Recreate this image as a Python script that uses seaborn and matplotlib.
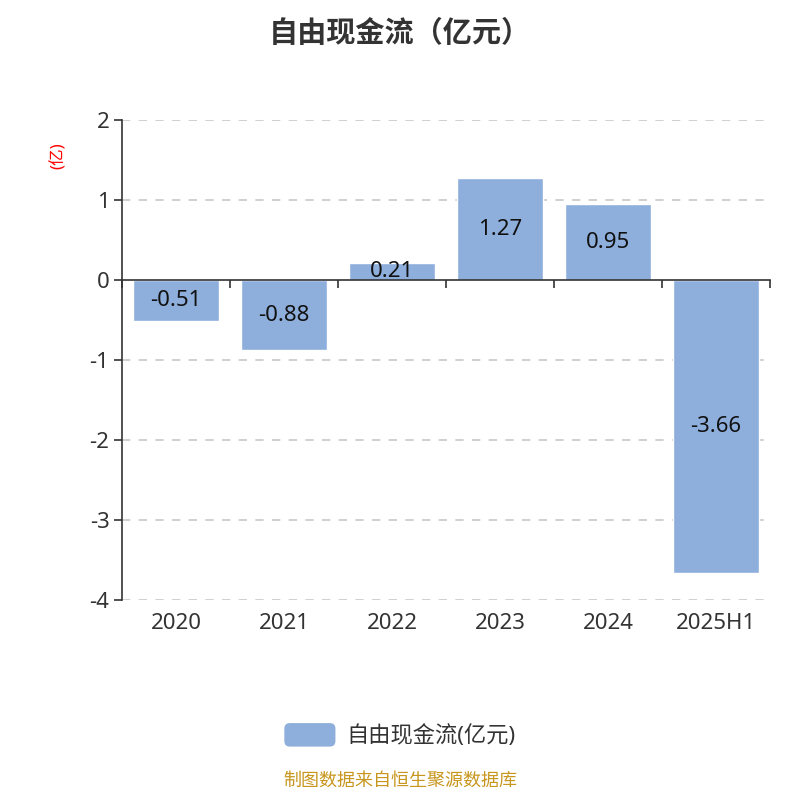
import matplotlib
matplotlib.use("Agg")
import matplotlib.pyplot as plt
import matplotlib.patches as mpatches
from matplotlib.legend_handler import HandlerPatch
import seaborn as sns
import pandas as pd

# chart data
years = ["2020", "2021", "2022", "2023", "2024", "2025H1"]
free_cash_flow = [-0.51, -0.88, 0.21, 1.27, 0.95, -3.66]
series_name = "自由现金流(亿元)"

BAR_COLOR = "#8eaedb"
TEXT_COLOR = "#333333"


class RoundHandler(HandlerPatch):
    # legend key with rounded corners
    def create_artists(self, legend, orig_handle, xdescent, ydescent,
                       width, height, fontsize, trans):
        p = mpatches.FancyBboxPatch((-xdescent, -ydescent), width, height,
                                    boxstyle="round,pad=0,rounding_size=4",
                                    facecolor=orig_handle.get_facecolor(),
                                    edgecolor="none", transform=trans)
        return [p]


def main():
    sns.set_style("white")
    plt.rcParams["font.family"] = ["Noto Sans", "Noto Sans CJK SC", "DejaVu Sans"]
    plt.rcParams["axes.unicode_minus"] = False

    df = pd.DataFrame({"year": years, "value": free_cash_flow})

    fig = plt.figure(figsize=(8, 8), dpi=100)
    ax = fig.add_axes([0.1525, 0.25, 0.81, 0.60])

    sns.barplot(data=df, x="year", y="value", color=BAR_COLOR, width=0.8,
                saturation=1, ax=ax)

    ax.set_ylim(-4, 2)
    ax.set_xlim(-0.5, len(years) - 0.5)
    ax.set_yticks(range(-4, 3))
    ax.set_yticklabels([str(v) for v in range(-4, 3)], fontsize=16, color=TEXT_COLOR)
    ax.tick_params(axis="y", left=True, length=6, width=1.2, color=TEXT_COLOR, pad=3)

    # dashed grid, skipping the zero line which is the axis
    for v in range(-4, 3):
        if v != 0:
            ax.axhline(v, color="#c8c8c8", linestyle=(0, (5, 5)), linewidth=1.2, zorder=0)

    # x axis drawn at zero, ticks between categories
    ax.spines["bottom"].set_position(("data", 0))
    ax.spines["bottom"].set_color(TEXT_COLOR)
    ax.spines["bottom"].set_linewidth(1.2)
    ax.spines["left"].set_color(TEXT_COLOR)
    ax.spines["left"].set_linewidth(1.2)
    ax.spines["top"].set_visible(False)
    ax.spines["right"].set_visible(False)

    ax.set_xticks([i - 0.5 for i in range(len(years) + 1)])
    ax.set_xticklabels([])
    ax.tick_params(axis="x", bottom=True, length=6, width=1.2, color=TEXT_COLOR,
                   direction="out")
    for i, year in enumerate(years):
        ax.text(i, -4.16, year, ha="center", va="top", fontsize=16, color=TEXT_COLOR)

    ax.set_xlabel("")
    ax.set_ylabel("")

    for container in ax.containers:
        ax.bar_label(container, labels=[f"{v:.2f}" for v in free_cash_flow],
                     label_type="center", fontsize=16, color="#111111")

    fig.text(0.073, 0.806, "(亿)", rotation=90, color="red", fontsize=12,
             ha="center", va="center")

    fig.suptitle("自由现金流（亿元）", y=0.975, fontsize=21, fontweight="bold",
                 color=TEXT_COLOR)

    handle = mpatches.Patch(facecolor=BAR_COLOR, label=series_name)
    leg = fig.legend(handles=[handle], loc="center", bbox_to_anchor=(0.5, 0.081),
                     frameon=False, fontsize=16, handlelength=2.3, handleheight=1.25,
                     handletextpad=0.5, handler_map={mpatches.Patch: RoundHandler()})
    for t in leg.get_texts():
        t.set_color(TEXT_COLOR)

    fig.text(0.5, 0.0245, "制图数据来自恒生聚源数据库", ha="center", va="center",
             fontsize=13, color="#c8961e")

    fig.savefig("out.png", dpi=100)


if __name__ == "__main__":
    main()
